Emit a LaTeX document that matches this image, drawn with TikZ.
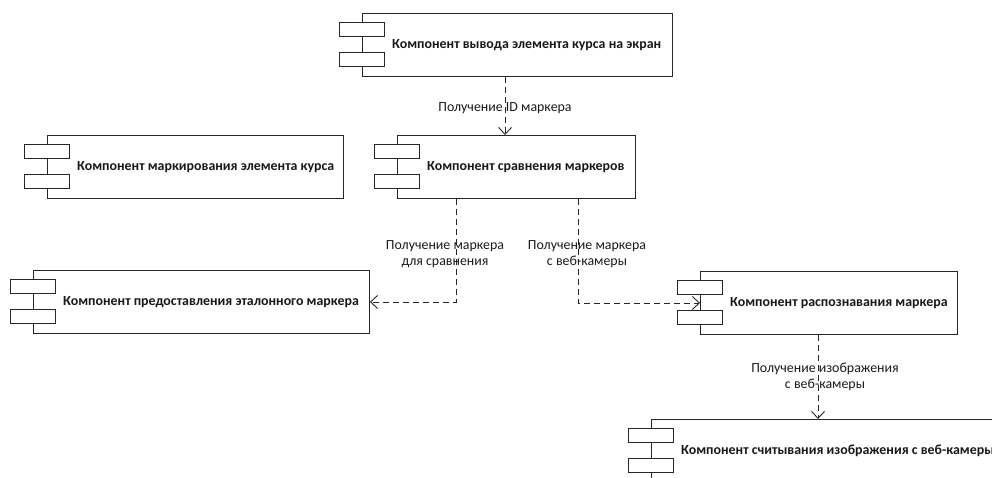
\documentclass[tikz,border=0pt]{standalone}
\usepackage{fontspec}
\setmainfont{Carlito}
\usetikzlibrary{arrows.meta}

\tikzset{
  comp/.style={draw=black!85, fill=white, line width=0.9pt, anchor=north west,
    inner sep=0pt, minimum height=63pt},
  port/.style={draw=black!85, fill=white, line width=0.9pt, inner sep=0pt,
    minimum width=45pt, minimum height=14pt},
  ctext/.style={anchor=west, inner sep=0pt, text=black!90,
    font=\bfseries\fontsize{13.9}{16}\selectfont},
  dep/.style={draw=black!85, line width=0.9pt, dash pattern=on 6pt off 4pt,
    -{Straight Barb[length=7pt,width=13pt,line width=0.9pt]}},
  lbl/.style={align=center, inner sep=0pt, text=black!90,
    font=\fontsize{13.9}{16.5}\selectfont},
}

% component box with two ports on its left edge and a bold title
\newcommand\umlcomp[5]{% name, x, y, width, title
  \node[comp, minimum width=#4pt] (#1) at (#2,#3) {};
  \node[port] (#1-p1) at ([yshift=-16pt]#1.north west) {};
  \node[port] (#1-p2) at ([yshift=-46pt]#1.north west) {};
  \node[ctext] (#1-t) at ([xshift=30pt]#1.west) {#5};
}

\begin{document}
\begin{tikzpicture}[x=1pt,y=-1pt]
  \useasboundingbox (0,0) rectangle (992,477);
  \clip (0,0) rectangle (992,477);

  \umlcomp{disp}{362}{13}{310}{Компонент вывода элемента курса на экран}
  \umlcomp{mark}{47}{135}{296}{Компонент маркирования элемента курса}
  \umlcomp{cmp}{397}{135}{238}{Компонент сравнения маркеров}
  \umlcomp{ref}{33}{270}{336}{Компонент предоставления эталонного маркера}
  \umlcomp{rec}{700}{271}{257}{Компонент распознавания маркера}
  \umlcomp{cam}{651}{419}{400}{Компонент считывания изображения с веб-камеры}

  % x positions of the vertical dependency lines
  \coordinate (x1) at (505,0);
  \coordinate (x2) at (456,0);
  \coordinate (x3) at (578,0);
  \coordinate (x4) at (818,0);

  \draw[dep] (disp.south -| x1) -- (cmp.north -| x1);
  \draw[dep] (cmp.south -| x2) |- (ref.east);
  \draw[dep] (cmp.south -| x3) |- (rec.west);
  \draw[dep] (rec.south -| x4) -- (cam.north -| x4);

  \node[lbl] (l1) at (505,108) {Получение ID маркера};
  \node[lbl] (l2) at (445,254) {Получение маркера\\для сравнения};
  \node[lbl] (l3) at (587,254) {Получение маркера\\с веб-камеры};
  \node[lbl] (l4) at (825,377) {Получение изображения\\с веб-камеры};
\end{tikzpicture}
\end{document}
